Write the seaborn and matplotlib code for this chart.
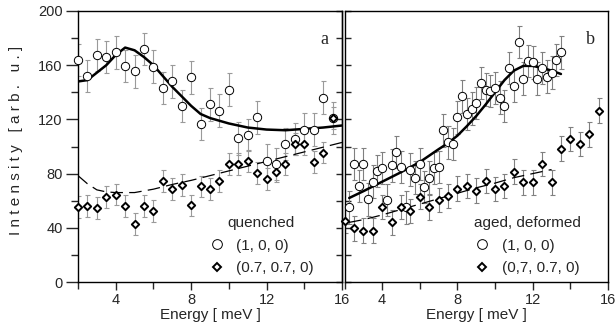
import numpy as np
import pandas as pd
import seaborn as sns
import matplotlib as mpl
mpl.use('Agg')
import matplotlib.pyplot as plt
from matplotlib.lines import Line2D
from matplotlib.ticker import MultipleLocator

# ---------------------------------------------------------
# data
# (a) quenched
q_x_100 = [2.0, 2.5, 3.0, 3.5, 4.0, 4.5, 5.0, 5.5, 6.0, 6.5, 7.0, 7.5, 8.0, 8.5,
           9.0, 9.5, 10.0, 10.5, 11.0, 11.5, 12.0, 12.5, 13.0, 13.5, 14.0, 14.5, 15.0, 15.5]
q_y_100 = [164, 152, 167.5, 166, 169.5, 159.5, 155.5, 172, 159, 143, 148, 130, 151, 116.5,
           131, 126.5, 142, 106, 108.5, 121.5, 89.5, 87, 102, 105.5, 112.5, 112.5, 136, 121]
q_err_100 = 12

q_x_770 = [2.0, 2.5, 3.0, 3.5, 4.0, 4.5, 5.0, 5.5, 6.0, 6.5, 7.0, 7.5, 8.0, 8.5,
           9.0, 9.5, 10.0, 10.5, 11.0, 11.5, 12.0, 12.5, 13.0, 13.5, 14.0, 14.5, 15.0, 15.5]
q_y_770 = [55.5, 56, 54.5, 62.5, 64.5, 56, 43, 56, 52.5, 74.5, 68.5, 71.5, 56.5, 70.5,
           68.5, 74.5, 87, 87, 89.5, 80.5, 76, 81.5, 87, 102, 102, 88.5, 95.5, 121]
q_err_770 = 8

q_fit_x = [2.0, 2.5, 3.0, 3.5, 4.0, 4.5, 5.0, 5.5, 6.0, 6.5, 7.0, 7.5, 8.0, 8.5,
           9.0, 10.0, 11.0, 12.0, 13.0, 14.0, 15.0, 16.0]
q_fit_y = [148, 149, 154.5, 160, 167.5, 173, 171, 166, 160, 152, 144, 137, 130, 124,
           121, 117, 114, 112.5, 112, 113, 114, 115.5]
q_dash_x = [2.0, 2.5, 3.0, 3.5, 4.0, 5.0, 6.0, 7.0, 8.0, 9.0, 10.0, 11.0, 12.0, 13.0, 14.0, 15.0, 16.0]
q_dash_y = [78.5, 72.5, 68, 66.5, 66, 66, 68.5, 72, 75, 78.5, 82, 85.5, 89, 92.5, 96, 99.5, 103]

# (b) aged, deformed
a_x_100 = [2.25, 2.5, 2.75, 3.0, 3.25, 3.5, 3.75, 4.0, 4.25, 4.5, 4.75, 5.0, 5.25, 5.5, 5.75,
           6.0, 6.25, 6.5, 6.75, 7.0, 7.25, 7.5, 7.75, 8.0, 8.25, 8.5, 8.75, 9.0, 9.25, 9.5,
           9.75, 10.0, 10.25, 10.5, 10.75, 11.0, 11.25, 11.5, 11.75, 12.0, 12.25, 12.5, 12.75,
           13.0, 13.25, 13.5]
a_y_100 = [55, 87, 71, 87, 61, 74, 82, 84, 60.5, 86, 96, 85, 55, 83, 77,
           87, 70, 77, 84, 85, 112, 103, 102, 121.5, 137, 124, 128, 132, 147, 142,
           141, 143, 136, 130, 158, 145, 177, 150, 163, 162, 150, 158, 151.5,
           154.5, 164, 169.5]
a_err_100 = 12

a_x_770 = [2.0, 2.5, 3.0, 3.5, 4.0, 4.5, 5.0, 5.5, 6.0, 6.5, 7.0, 7.5, 8.0, 8.5, 9.0, 9.5,
           10.0, 10.5, 11.0, 11.5, 12.0, 12.5, 13.0, 13.5, 14.0, 14.5, 15.0, 15.5]
a_y_770 = [45, 39.5, 38, 38, 55.5, 44, 55.5, 52.5, 63, 55, 60.5, 63.5, 69, 71, 67.5, 74.5,
           68.5, 71, 81.5, 73.5, 73.5, 87, 73.5, 98.5, 105.5, 102, 109, 126.5]
a_err_770 = 9

a_fit_x = [2.25, 3.0, 4.0, 5.0, 6.0, 7.0, 7.5, 8.0, 8.5, 9.0, 9.5, 10.0, 10.5, 11.0,
           11.5, 12.0, 12.5, 13.0, 13.5]
a_fit_y = [62, 67, 74, 81, 88.5, 98, 102.5, 108, 115, 122.5, 131, 140, 149, 156,
           159.5, 159.5, 158, 156, 153.5]
a_dash_x = [2.25, 3.0, 4.0, 5.0, 6.0, 7.0, 8.0, 9.0, 10.0, 11.0, 12.0, 13.0]
a_dash_y = [44, 46, 49.5, 53.5, 57.5, 61.5, 65.5, 69.5, 73, 77, 80, 83]

# ---------------------------------------------------------
sns.set_style('ticks')
plt.rcParams['font.family'] = ['Liberation Sans', 'DejaVu Sans']
plt.rc('axes', linewidth=1.0)

fig = plt.figure(figsize=(6.16, 3.36), dpi=100)
ax_l = fig.add_axes([78 / 616, 54 / 336, 264 / 616, 271 / 336])
ax_r = fig.add_axes([344.5 / 616, 54 / 336, 263.5 / 616, 271 / 336])

panels = [
    (ax_l, q_x_100, q_y_100, q_err_100, q_x_770, q_y_770, q_err_770,
     q_fit_x, q_fit_y, q_dash_x, q_dash_y, 'quenched', '(0.7, 0.7, 0)', 'a', '#9a9a9a', 0.49),
    (ax_r, a_x_100, a_y_100, a_err_100, a_x_770, a_y_770, a_err_770,
     a_fit_x, a_fit_y, a_dash_x, a_dash_y, 'aged, deformed', '(0,7, 0.7, 0)', 'b', '#808080', 0.485),
]

for (ax, x1, y1, e1, x2, y2, e2, fx, fy, dx, dy, title, lab2, tag, ecol, lx) in panels:
    df1 = pd.DataFrame({'E': x1, 'I': y1})
    df2 = pd.DataFrame({'E': x2, 'I': y2})

    ax.errorbar(df1['E'], df1['I'], yerr=e1, fmt='none', ecolor=ecol,
                elinewidth=0.8, capsize=1.8, capthick=0.8, zorder=1)
    ax.errorbar(df2['E'], df2['I'], yerr=e2, fmt='none', ecolor=ecol,
                elinewidth=0.8, capsize=1.8, capthick=0.8, zorder=1)

    sns.lineplot(x=dx, y=dy, ax=ax, color='black', lw=0.9,
                 linestyle=(0, (10, 5)), zorder=2)
    sns.lineplot(x=fx, y=fy, ax=ax, color='black', lw=1.8, zorder=2)

    sns.scatterplot(data=df1, x='E', y='I', ax=ax, marker='o', s=36, clip_on=False,
                    facecolor='white', edgecolor='black', linewidth=0.7, zorder=3)
    sns.scatterplot(data=df2, x='E', y='I', ax=ax, marker='D', s=14, clip_on=False,
                    facecolor='white', edgecolor='black', linewidth=1.4, zorder=4)

    ax.set_xlim(2, 16)
    ax.set_ylim(0, 200)
    ax.xaxis.set_major_locator(MultipleLocator(4))
    ax.xaxis.set_minor_locator(MultipleLocator(2))
    ax.yaxis.set_major_locator(MultipleLocator(40))
    ax.yaxis.set_minor_locator(MultipleLocator(20))
    ax.tick_params(axis='x', which='major', direction='out', length=6, width=1.0,
                   labelsize=10.5, pad=2)
    ax.tick_params(axis='x', which='minor', direction='out', length=5, width=1.0)
    ax.set_xlabel('Energy [ meV ]', fontsize=11, labelpad=1)
    ax.set_ylabel('')
    for s in ax.spines.values():
        s.set_visible(True)
        s.set_color('black')

    ax.text(0.935, 0.893, tag, transform=ax.transAxes, fontsize=13,
            family=['Liberation Serif', 'DejaVu Serif'], ha='center', va='center')

    handles = [Line2D([], [], ls='none', marker='o', ms=7, mfc='white', mec='black', mew=0.7),
               Line2D([], [], ls='none', marker='D', ms=3.8, mfc='white', mec='black', mew=1.4)]
    ax.legend(handles, ['(1, 0, 0)', lab2], title=title, loc='lower left',
              bbox_to_anchor=(lx, 0.02), frameon=False, fontsize=11, title_fontsize=11,
              handlelength=1.0, handletextpad=0.8, labelspacing=0.55, borderpad=0.1,
              borderaxespad=0)

# left panel y axis: labelled ticks outside, plain ticks inside on the right
ax_l.tick_params(axis='y', which='major', direction='out', length=9, width=1.0,
                 labelsize=10.5, pad=2)
ax_l.tick_params(axis='y', which='minor', direction='out', length=5, width=1.0)
sec = ax_l.secondary_yaxis('right')
sec.yaxis.set_major_locator(MultipleLocator(20))
sec.tick_params(axis='y', direction='in', length=4, width=1.0, labelright=False)

# right panel: short inward ticks on its left spine, no labels
ax_r.tick_params(axis='y', which='both', direction='in', length=4, width=1.0,
                 labelleft=False)
ax_r.yaxis.set_minor_locator(MultipleLocator(20))

fig.text(16 / 616, 1 - 140 / 336, 'I n t e n s i t y   [ a r b .   u . ]', rotation=90,
         ha='center', va='center', fontsize=11)

fig.savefig('out.png', dpi=100)
